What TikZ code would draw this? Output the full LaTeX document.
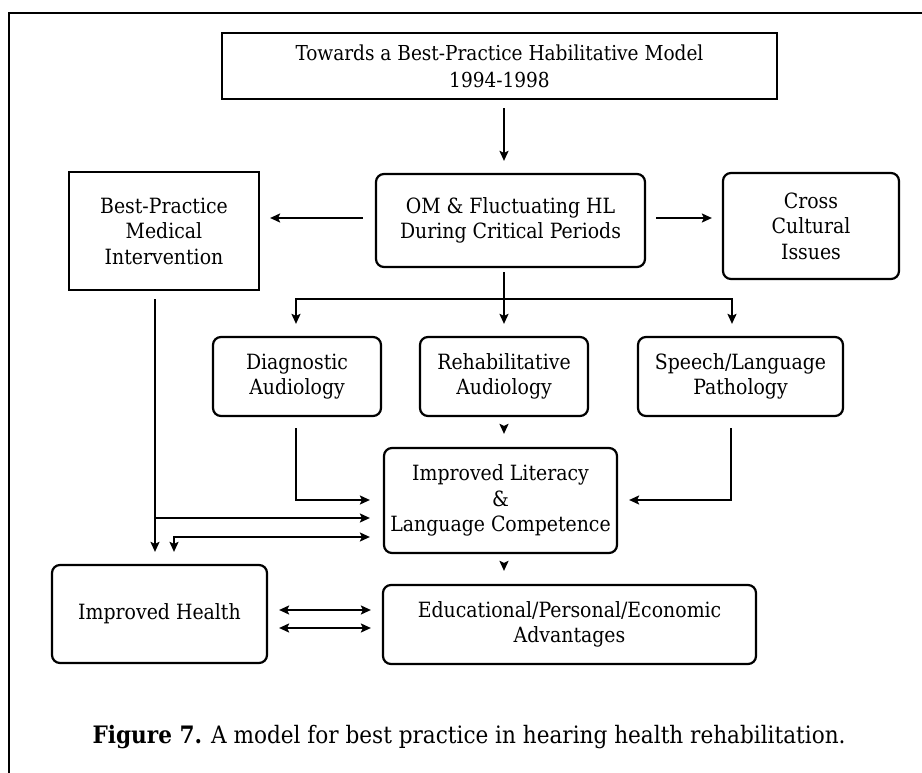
\documentclass[tikz,border=0pt]{standalone}
\usepackage{fontspec}
\setmainfont{DejaVu Serif Condensed}
\usetikzlibrary{arrows.meta}
\begin{document}
\begin{tikzpicture}[x=1pt,y=-1pt,
  base/.style={draw=black, line width=2.2pt, align=center, inner sep=0pt,
    font=\fontsize{21}{25.5}\selectfont},
  sqbox/.style={base},
  rbox/.style={base, rounded corners=8pt},
  conn/.style={line width=2pt, line join=miter},
  arr/.style={conn, -{Stealth[length=10pt,width=9pt,inset=2pt]}},
  darr/.style={conn, {Stealth[length=10pt,width=9pt,inset=2pt]}-{Stealth[length=10pt,width=9pt,inset=2pt]}},
]
\useasboundingbox (0,0) rectangle (922,773);
\fill[white] (0,0) rectangle (922,773);
\draw[line width=2.5pt] (9,775) -- (9,13) -- (924,13);

\node[sqbox, minimum width=555pt, minimum height=66pt, font=\fontsize{20.6}{27}\selectfont] (top) at (499.5,66) {Towards a Best-Practice Habilitative Model\\1994-1998};
\node[sqbox, minimum width=190pt, minimum height=118pt] (med) at (164,231) {Best-Practice\\Medical\\Intervention};
\node[rbox, minimum width=269pt, minimum height=93pt] (om) at (510.5,220.5) {OM \& Fluctuating HL\\During Critical Periods};
\node[rbox, minimum width=176pt, minimum height=106pt] (cross) at (811,226) {Cross\\Cultural\\Issues};
\node[rbox, minimum width=168pt, minimum height=79pt] (diag) at (297,376.5) {Diagnostic\\Audiology};
\node[rbox, minimum width=168pt, minimum height=79pt] (rehab) at (504,376.5) {Rehabilitative\\Audiology};
\node[rbox, minimum width=205pt, minimum height=79pt] (speech) at (740.5,376.5) {Speech/Language\\Pathology};
\node[rbox, minimum width=233pt, minimum height=105pt] (lit) at (500.5,500.5) {Improved Literacy\\\&\\Language Competence};
\node[rbox, minimum width=215pt, minimum height=98pt] (health) at (159.5,614) {Improved Health};
\node[rbox, minimum width=373pt, minimum height=79pt] (edu) at (569.5,624.5) {Educational/Personal/Economic\\Advantages};

\node[inner sep=0pt, font=\fontsize{24}{30}\selectfont] (cap) at (469,737) {\textbf{Figure 7.} A model for best practice in hearing health rehabilitation.};

% top -> OM
\draw[arr] ([yshift=-8pt]top.south -| 504,0) -- ([yshift=12pt]om.north -| 504,0);
% OM -> medical, OM -> cross
\draw[arr] ([xshift=-12pt]om.west |- 0,218) -- ([xshift=10pt]med.east |- 0,218);
\draw[arr] ([xshift=10pt]om.east |- 0,218) -- ([xshift=-10pt]cross.west |- 0,218);
% OM branch
\coordinate (bar) at (504,299);
\draw[conn] ([yshift=-4pt]om.south -| bar) -- (bar);
\draw[arr] (bar) -| ([yshift=12pt]diag.north -| 296,0);
\draw[arr] (bar) -- ([yshift=12pt]rehab.north -| bar);
\draw[arr] (bar) -| ([yshift=12pt]speech.north -| 732,0);
% to literacy
\draw[arr] ([yshift=-11pt]rehab.south -| bar) -- ([yshift=13pt]lit.north -| bar);
\draw[arr] ([yshift=-11pt]diag.south -| 296,0) |- ([xshift=-13pt]lit.west |- 0,500);
\draw[arr] ([yshift=-11pt]speech.south -| 731,0) |- ([xshift=11pt]lit.east |- 0,500);
% medical line
\coordinate (m1) at (155,518);
\draw[arr] ([yshift=-8pt]med.south -| m1) -- ([yshift=12pt]health.north -| m1);
\draw[arr] (m1) -- ([xshift=-13pt]lit.west |- m1);
\draw[darr] ([xshift=-13pt]lit.west |- 0,537) -| ([yshift=12pt]health.north -| 174,0);
% literacy -> edu
\draw[arr] ([yshift=-10pt]lit.south -| bar) -- ([yshift=13pt]edu.north -| bar);
% health <-> edu
\draw[darr] ([xshift=11pt]health.east |- 0,610) -- ([xshift=-11pt]edu.west |- 0,610);
\draw[darr] ([xshift=11pt]health.east |- 0,628) -- ([xshift=-11pt]edu.west |- 0,628);
\end{tikzpicture}
\end{document}
